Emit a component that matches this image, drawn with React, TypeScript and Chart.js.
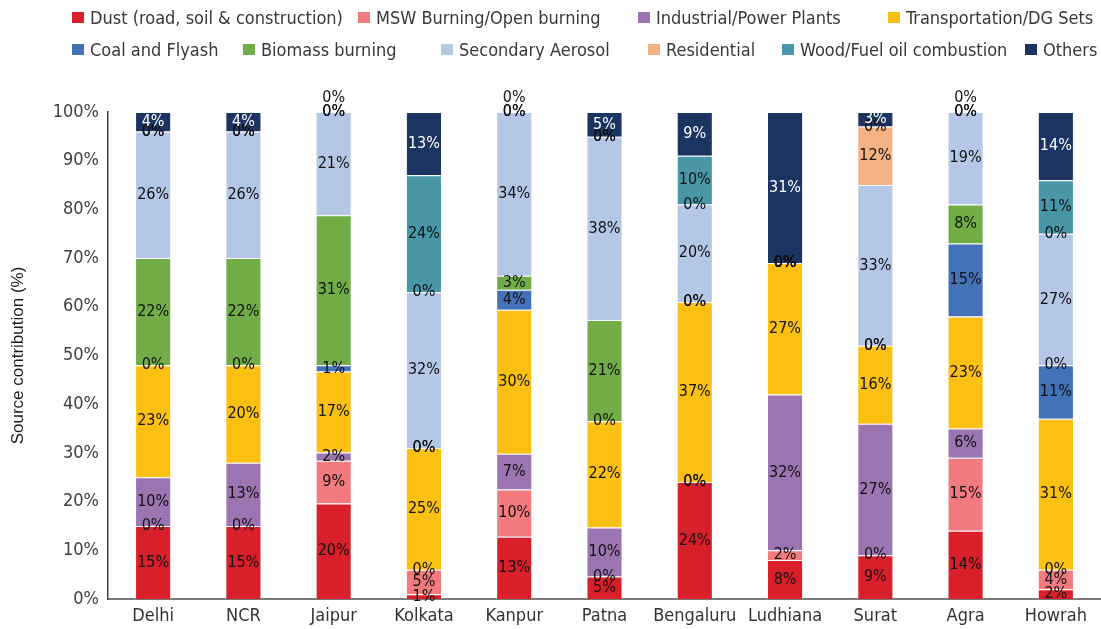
import React, { useEffect, useRef } from "react";
import { Chart, registerables } from "chart.js";

Chart.register(...registerables);

const cities = ["Delhi", "NCR", "Jaipur", "Kolkata", "Kanpur", "Patna", "Bengaluru", "Ludhiana", "Surat", "Agra", "Howrah"];

const dust = [15, 15, 19.6, 1, 12.8, 4.6, 24, 8, 9, 14, 2];
const msw = [0, 0, 8.8, 5, 9.7, 0, 0, 2, 0, 15, 4];
const industrial = [10, 13, 1.7, 0, 7.3, 10.1, 0, 32, 27, 6, 0];
const transport = [23, 20, 16.6, 25, 29.6, 21.8, 37, 27, 16, 23, 31];
const coal = [0, 0, 1.3, 0, 4.1, 0, 0, 0, 0, 15, 11];
const biomass = [22, 22, 30.8, 0, 2.9, 20.8, 0, 0, 0, 8, 0];
const secondary = [26, 26, 21.2, 32, 33.6, 37.6, 20, 0, 33, 19, 27];
const residential = [0, 0, 0, 0, 0, 0, 0, 0, 12, 0, 0];
const wood = [0, 0, 0, 24, 0, 0, 10, 0, 0, 0, 11];
const others = [4, 4, 0, 13, 0, 5.1, 9, 31, 3, 0, 14];

const seriesNames = [
  "Dust (road, soil & construction)",
  "MSW Burning/Open burning",
  "Industrial/Power Plants",
  "Transportation/DG Sets",
  "Coal and Flyash",
  "Biomass burning",
  "Secondary Aerosol",
  "Residential",
  "Wood/Fuel oil combustion",
  "Others",
];
const seriesData = [dust, msw, industrial, transport, coal, biomass, secondary, residential, wood, others];
const seriesColors = ["#d9202a", "#f27b80", "#9b74b2", "#fcc012", "#4472b8", "#70ad47", "#b4c7e7", "#f4b183", "#4a96a9", "#1c3461"];

const yTicks = [0, 10, 20, 30, 40, 50, 60, 70, 80, 90, 100];

// legend layout (rows of series indices and box left positions)
const legendRows = [
  { top: 17, items: [0, 1, 2, 3], xs: [72, 358, 638, 888] },
  { top: 49, items: [4, 5, 6, 7, 8, 9], xs: [72, 243, 441, 648, 782, 1025] },
];

const FONT = '"DejaVu Sans Condensed", "DejaVu Sans", sans-serif';

const labelPlugin = {
  id: "segLabels",
  afterDatasetsDraw(chart: any) {
    const ctx = chart.ctx;
    const last = chart.data.datasets.length - 1;
    const topPx = chart.scales.y.getPixelForValue(100);
    ctx.save();
    ctx.font = `16px ${FONT}`;
    ctx.textAlign = "center";
    ctx.textBaseline = "middle";
    chart.data.datasets.forEach((ds: any, di: number) => {
      const meta = chart.getDatasetMeta(di);
      meta.data.forEach((bar: any, i: number) => {
        const v = ds.data[i];
        const p = bar.getProps(["x", "y", "base"], true);
        let cy = (p.y + p.base) / 2;
        if (v === 0 && di === last && Math.abs(cy - topPx) < 1) cy -= 14;
        ctx.fillStyle = di === last && v > 0 ? "#ffffff" : "#111111";
        ctx.fillText(Math.round(v) + "%", p.x, cy);
      });
    });
    ctx.restore();
  },
};

export default function App() {
  const ref = useRef<HTMLCanvasElement>(null);

  useEffect(() => {
    if (!ref.current) return;
    const chart = new Chart(ref.current, {
      type: "bar",
      data: {
        labels: cities,
        datasets: seriesNames.map((name, k) => ({
          label: name,
          data: seriesData[k],
          backgroundColor: seriesColors[k],
          borderColor: "rgba(255,255,255,0.45)",
          borderWidth: 1,
          barPercentage: 0.4,
          categoryPercentage: 1,
        })),
      },
      options: {
        responsive: false,
        animation: false,
        layout: { padding: { top: 112, left: 0, right: 0, bottom: 0 } },
        plugins: {
          legend: { display: false },
          tooltip: { enabled: false },
        },
        scales: {
          x: {
            stacked: true,
            grid: { display: false, drawTicks: false },
            border: { display: true, color: "#7a7a7a", width: 2 },
            ticks: { color: "#333333", font: { family: FONT, size: 18, lineHeight: 1 }, padding: 8 },
            afterFit: (s: any) => {
              s.height = 30;
            },
          },
          y: {
            stacked: true,
            min: 0,
            max: 100,
            grid: { display: false, drawTicks: false },
            border: { display: true, color: "#404040", width: 1.5 },
            afterBuildTicks: (s: any) => {
              s.ticks = yTicks.map((v) => ({ value: v }));
            },
            ticks: {
              color: "#404040",
              font: { family: FONT, size: 18 },
              padding: 9,
              callback: (v: any) => v + "%",
            },
            title: {
              display: true,
              text: "Source contribution (%)",
              color: "#1a1a1a",
              font: { family: '"Liberation Sans", Arial, sans-serif', size: 17, lineHeight: 1.2 },
              padding: { top: 8, bottom: 0 },
            },
            afterFit: (s: any) => {
              s.width = 108;
            },
          },
        },
      },
      plugins: [labelPlugin],
    });
    return () => chart.destroy();
  }, []);

  return (
    <div
      style={{
        position: "fixed",
        left: 0,
        top: 0,
        width: 1101,
        height: 629,
        overflow: "hidden",
        background: "#ffffff",
      }}
    >
      <canvas ref={ref} width={1101} height={629} style={{ position: "absolute", left: 0, top: 0 }} />
      {legendRows.map((row, r) =>
        row.items.map((k, j) => (
          <div
            key={`${r}-${j}`}
            style={{
              position: "absolute",
              left: row.xs[j],
              top: row.top - 11,
              height: 22,
              display: "flex",
              alignItems: "center",
              whiteSpace: "nowrap",
              fontFamily: FONT,
              fontSize: 18,
              color: "#383838",
            }}
          >
            <span style={{ display: "inline-block", width: 12, height: 11, background: seriesColors[k], marginRight: 6 }} />
            <span>{seriesNames[k]}</span>
          </div>
        ))
      )}
    </div>
  );
}
